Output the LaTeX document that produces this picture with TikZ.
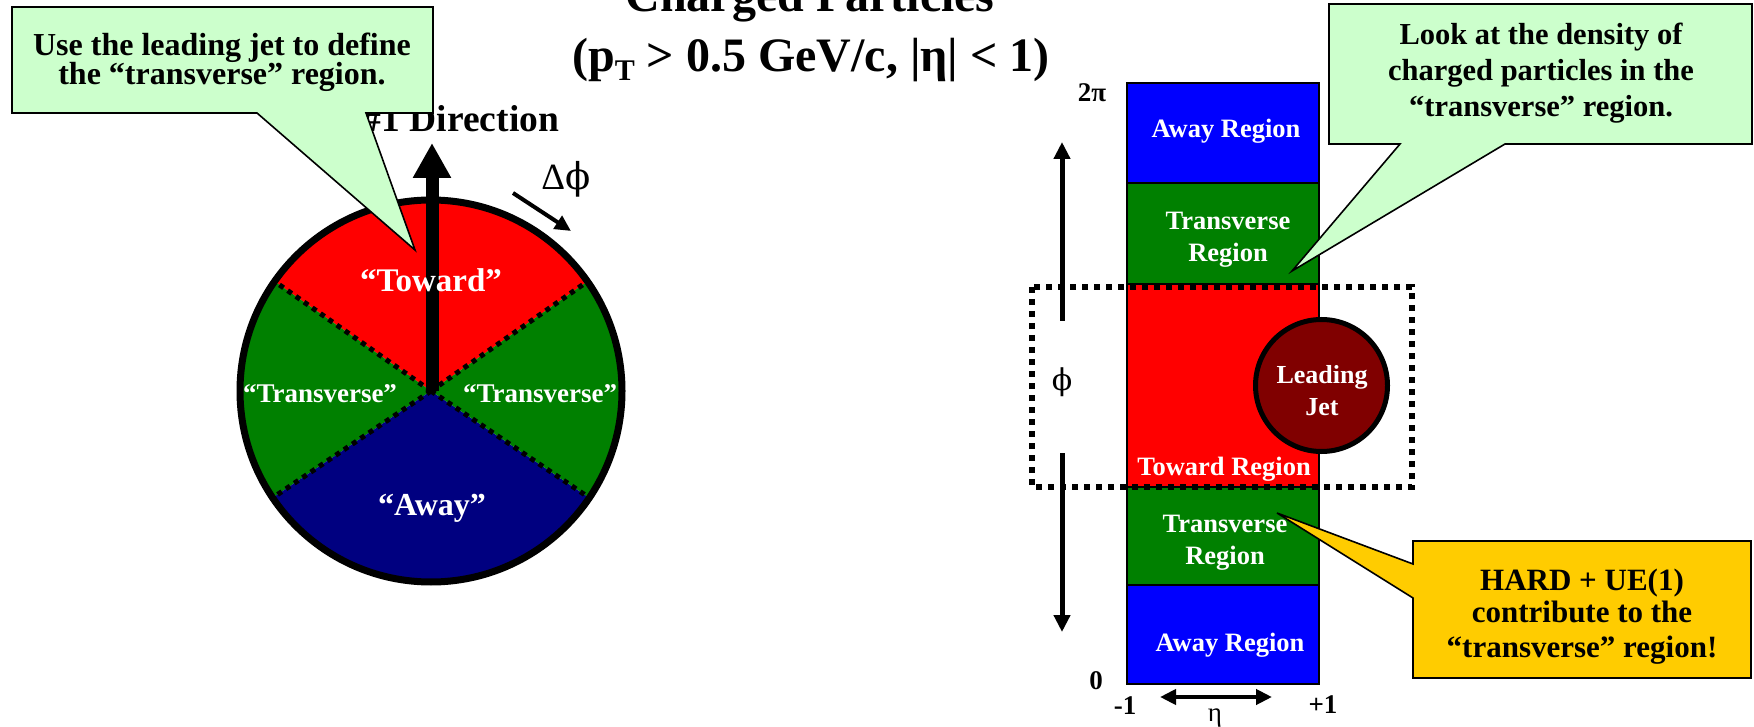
\documentclass[tikz,border=0pt]{standalone}
\usepackage{fontspec}
\setmainfont{Liberation Serif}
\newfontfamily\phifont{DejaVu Serif}
\usetikzlibrary{arrows.meta}
\definecolor{towardred}{HTML}{FF0000}
\definecolor{transgreen}{HTML}{008000}
\definecolor{awaynavy}{HTML}{000080}
\definecolor{awayblue}{HTML}{0000FF}
\definecolor{jetred}{HTML}{800000}
\definecolor{calloutgreen}{HTML}{CCFFCC}
\definecolor{calloutyellow}{HTML}{FFCC00}
\newcommand\myfs[1]{\fontsize{#1}{#1}\selectfont}
\newcommand\myphi{{\phifont ϕ}}
\begin{document}
\begin{tikzpicture}[x=1pt,y=-1pt,
  lbl/.style={inner sep=0pt, anchor=base},
  bt/.style={lbl, font=\bfseries\myfs{#1}},
  wbt/.style={bt=#1, text=white},
  rt/.style={lbl, font=\myfs{#1}},
  dotline/.style={line width=5pt, dash pattern=on 5pt off 5pt},
  dotbox/.style={line width=6pt, dash pattern=on 6pt off 6pt},
  callout/.style={draw=black, line width=1.6pt, line join=miter},
  region/.style={draw=black, line width=2pt},
  axisarrow/.style={line width=5pt, -{Triangle[width=16pt,length=17pt]}},
]
\useasboundingbox (0,0) rectangle (1754,727);

% ---------------- left: phi circle ----------------
\coordinate (C) at (431,391);
\begin{scope}[shift={(431,391)}, yscale=-1]
  \fill[towardred]  (0,0) -- (35:191) arc[start angle=35, end angle=145, radius=191] -- cycle;
  \fill[transgreen] (0,0) -- (145:191) arc[start angle=145, end angle=214, radius=191] -- cycle;
  \fill[awaynavy]   (0,0) -- (214:191) arc[start angle=214, end angle=326, radius=191] -- cycle;
  \fill[transgreen] (0,0) -- (326:191) arc[start angle=326, end angle=395, radius=191] -- cycle;
  \draw[dotline] (0,0) -- (35:191);
  \draw[dotline] (0,0) -- (145:191);
  \draw[dotline] (0,0) -- (214:191);
  \draw[dotline] (0,0) -- (326:191);
  \draw[line width=7pt] (0,0) circle[radius=191];
\end{scope}

% direction arrow
\coordinate (dirbase) at (432,391);
\coordinate (dirtip) at (432,143);
\draw[line width=13pt, -{Triangle[width=36pt,length=35pt]}] (dirbase) -- (dirtip);
\node[bt=37.5] (dirlbl) at (461,132) {\#1 Direction};

\node[wbt=33] (toward) at (431,292) {“Toward”};
\node[wbt=27] (transL) at (320,402) {“Transverse”};
\node[wbt=27] (transR) at (540,402) {“Transverse”};
\node[wbt=32] (away) at (432,515) {“Away”};

% delta phi
\node[rt=37] (dphi) at (566,190) {Δ\myphi};
\coordinate (dphiA) at (513,193);
\coordinate (dphiB) at (571,231);
\draw[line width=4pt, -{Triangle[width=15pt,length=16pt]}] (dphiA) -- (dphiB);

% left callout
\draw[callout, fill=calloutgreen] (12,7) -- (433,7) -- (433,113) -- (366,113) -- (415,250) -- (257,113) -- (12,113) -- cycle;
\node[bt=32] (lc1) at (222,56) {Use the leading jet to define};
\node[bt=32] (lc2) at (222,85) {the “transverse” region.};

% title
\node[bt=48] (title1) at (810,12) {Charged Particles};
\node[bt=48] (title2) at (811,72) {(p\raisebox{-0.18em}{\myfs{30}T} > 0.5 GeV/c, |η| < 1)};

% ---------------- right: eta-phi column ----------------
\fill[awayblue]   (1127,83)  rectangle (1319,183);
\fill[transgreen] (1127,183) rectangle (1319,284);
\fill[towardred]  (1127,284) rectangle (1319,487);
\fill[transgreen] (1127,487) rectangle (1319,585);
\fill[awayblue]   (1127,585) rectangle (1319,684);
\draw[region] (1127,83) rectangle (1319,684);
\draw[region] (1127,183) -- (1319,183);
\draw[region] (1127,284) -- (1319,284);
\draw[region] (1127,487) -- (1319,487);
\draw[region] (1127,585) -- (1319,585);

\node[wbt=26.5] (awayT) at (1226,138) {Away Region};
\node[wbt=26.5] (transT1) at (1228,230) {Transverse};
\node[wbt=26.5] (transT2) at (1228,262) {Region};
\node[wbt=26.5] (towardR) at (1224,475) {Toward Region};
\node[wbt=26.5] (transB1) at (1225,532) {Transverse};
\node[wbt=26.5] (transB2) at (1225,564) {Region};
\node[wbt=26.5] (awayB) at (1230,651) {Away Region};

% dotted toward box
\draw[dotbox] (1032,287) rectangle (1412,487);

% leading jet
\draw[line width=5pt, fill=jetred] (1321.5,385.5) circle[radius=66];
\node[wbt=26] (jet1) at (1322,383) {Leading};
\node[wbt=26] (jet2) at (1322,415) {Jet};

% phi axis
\coordinate (upA) at (1062,321);
\coordinate (upB) at (1062,142);
\coordinate (dnA) at (1062,453);
\coordinate (dnB) at (1062,632);
\draw[axisarrow] (upA) -- (upB);
\draw[axisarrow] (dnA) -- (dnB);
\node[rt=30] (philbl) at (1062,390) {\myphi};
\node[bt=27] (twopi) at (1092,102) {2π};
\node[bt=27] (zero) at (1096,689) {0};
\node[bt=27] (mone) at (1125,714) {-1};
\node[bt=27] (pone) at (1323,713) {+1};
\node[rt=27] (etalbl) at (1215,721) {η};
\coordinate (etaA) at (1160,697);
\coordinate (etaB) at (1272,697);
\draw[line width=4pt, {Triangle[width=15pt,length=16pt]}-{Triangle[width=15pt,length=16pt]}] (etaA) -- (etaB);

% right top callout
\draw[callout, fill=calloutgreen] (1329,4) -- (1752,4) -- (1752,144) -- (1505,144) -- (1292,271) -- (1400,144) -- (1329,144) -- cycle;
\node[bt=30.5] (rc1) at (1541,45) {Look at the density of};
\node[bt=30.5] (rc2) at (1541,81) {charged particles in the};
\node[bt=30.5] (rc3) at (1541,117) {“transverse” region.};

% yellow callout
\draw[callout, fill=calloutyellow] (1413,541) -- (1751,541) -- (1751,678) -- (1413,678) -- (1413,598) -- (1277,513) -- (1413,564) -- cycle;
\node[bt=31] (yc1) at (1582,590) {HARD + UE(1)};
\node[bt=31] (yc2) at (1582,622) {contribute to the};
\node[bt=31] (yc3) at (1582,657) {“transverse” region!};
\end{tikzpicture}
\end{document}
